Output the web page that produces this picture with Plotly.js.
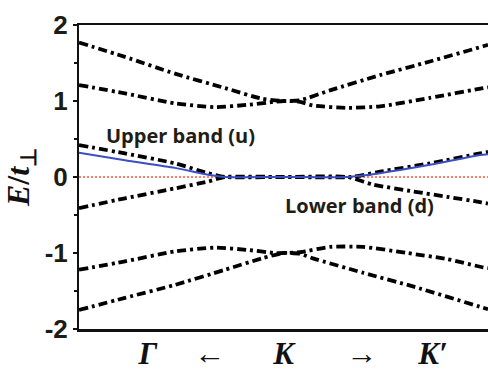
<!DOCTYPE html>
<html>
<head>
<meta charset="utf-8">
<script src="https://cdn.plot.ly/plotly-3.0.1.min.js"></script>
<style>html,body{margin:0;padding:0;background:#fff;}#chart{width:488px;height:371px;}</style>
</head>
<body>
<div id="chart"></div>
<script>
// Band 1 (highest)
var k1 = [-1, -0.775, -0.531, -0.286, -0.105, 0, 0.081, 0.227, 0.472, 0.716, 0.976, 1.0];
var e1 = [1.77, 1.58, 1.36, 1.17, 1.03, 1.0, 1.01, 1.14, 1.34, 1.52, 1.72, 1.74];
// Band 2
var k2 = [-1, -0.775, -0.531, -0.335, -0.174, -0.042, 0, 0.081, 0.144, 0.311, 0.472, 0.716, 0.976, 1.0];
var e2 = [1.21, 1.10, 0.97, 0.92, 0.95, 0.99, 1.0, 0.99, 0.94, 0.91, 0.93, 1.04, 1.17, 1.18];
// Band 3 (upper low-energy, black)
var k3 = [-1, -0.775, -0.531, -0.369, -0.286, 0, 0.33, 0.472, 0.716, 0.961, 1.0];
var e3 = [0.42, 0.31, 0.18, 0.05, 0.0, 0.0, 0.0, 0.07, 0.18, 0.31, 0.33];
// Upper band (u), blue
var ku = [-1, -0.775, -0.531, -0.369, -0.286, 0, 0.311, 0.472, 0.716, 0.961, 1.0];
var eu = [0.32, 0.22, 0.12, 0.03, 0.0, 0.0, 0.0, 0.05, 0.16, 0.29, 0.30];
// Band 4 (lower low-energy)
var k4 = [-1, -0.775, -0.531, -0.369, -0.286, 0, 0.311, 0.438, 0.633, 0.800, 0.961, 1.0];
var e4 = [-0.41, -0.28, -0.15, -0.06, 0.0, 0.0, 0.0, -0.10, -0.19, -0.26, -0.33, -0.35];
// Band 5
var k5 = [-1, -0.775, -0.531, -0.335, -0.174, -0.042, 0, 0.081, 0.227, 0.389, 0.604, 0.800, 0.976, 1.0];
var e5 = [-1.22, -1.11, -0.98, -0.93, -0.96, -1.0, -1.0, -0.99, -0.92, -0.92, -1.0, -1.08, -1.19, -1.20];
// Band 6 (lowest)
var k6 = [-1, -0.775, -0.531, -0.286, -0.105, 0, 0.081, 0.144, 0.389, 0.633, 0.976, 1.0];
var e6 = [-1.75, -1.59, -1.42, -1.22, -1.07, -1.0, -1.01, -1.07, -1.26, -1.44, -1.72, -1.74];
// Fermi level
var kF = [-1, 1];
var eF = [0, 0];

var xTickVals = [-0.663, -0.359, 0, 0.384, 0.731];
var xTickText = ['<b><i>Γ</i></b>', '←', '<b><i>K</i></b>', '→', "<b><i>K′</i></b>"];
var yTickVals = [-2, -1, 0, 1, 2];
var yTickText = ['-2', '-1', '0', '1', '2'];

var blackLine = {color: '#000', width: 3.8, dash: '9px,4px,3px,4px', shape: 'spline', smoothing: 0.6};
function band(k, e) {
  return {x: k, y: e, mode: 'lines', line: blackLine, hoverinfo: 'skip', showlegend: false};
}
var traces = [
  {x: kF, y: eF, mode: 'lines', line: {color: '#ff5533', width: 1.6, dash: '2px,2px'}, showlegend: false},
  band(k1, e1), band(k2, e2), band(k3, e3), band(k4, e4), band(k5, e5), band(k6, e6),
  {x: ku, y: eu, mode: 'lines', line: {color: '#3b4fc4', width: 2, shape: 'spline', smoothing: 0.6}, showlegend: false}
];

var layout = {
  width: 488, height: 371,
  margin: {l: 79, r: 0, t: 25, b: 42},
  paper_bgcolor: '#fff', plot_bgcolor: '#fff',
  showlegend: false,
  xaxis: {
    range: [-1, 1], showgrid: false, zeroline: false,
    showline: true, linecolor: '#111', linewidth: 2.5, mirror: true,
    ticks: '', tickvals: xTickVals, ticktext: xTickText, ticklabelstandoff: -5,
    tickfont: {family: 'Liberation Serif', size: 31, color: '#111'}
  },
  yaxis: {
    range: [-2, 2], showgrid: false, zeroline: false,
    showline: true, linecolor: '#111', linewidth: 2,
    ticks: 'outside', ticklen: 4, tickwidth: 1.5, tickcolor: '#111',
    tickvals: yTickVals, ticktext: yTickText,
    minor: {tickvals: [-1.5, -0.5, 0.5, 1.5], ticks: 'outside', ticklen: 3, tickwidth: 1.5, tickcolor: '#111'},
    tickfont: {family: 'Liberation Sans', size: 26, color: '#1e1a14', weight: 'bold'},
    title: {text: '<b><i>E</i>/<i>t</i><sub>⊥</sub></b>', font: {family: 'Liberation Serif', size: 32, color: '#111'}, standoff: 12}
  },
  annotations: [
    {x: -0.506, y: 0.54, xref: 'x', yref: 'y', text: '<b>Upper band (u)</b>', showarrow: false,
     font: {family: 'Open Sans', size: 20, color: '#221c14'}},
    {x: 0.374, y: -0.37, xref: 'x', yref: 'y', text: '<b>Lower band (d)</b>', showarrow: false,
     font: {family: 'Open Sans', size: 20, color: '#221c14'}}
  ]
};

Plotly.newPlot('chart', traces, layout, {staticPlot: true, displayModeBar: false});
</script>
</body>
</html>
